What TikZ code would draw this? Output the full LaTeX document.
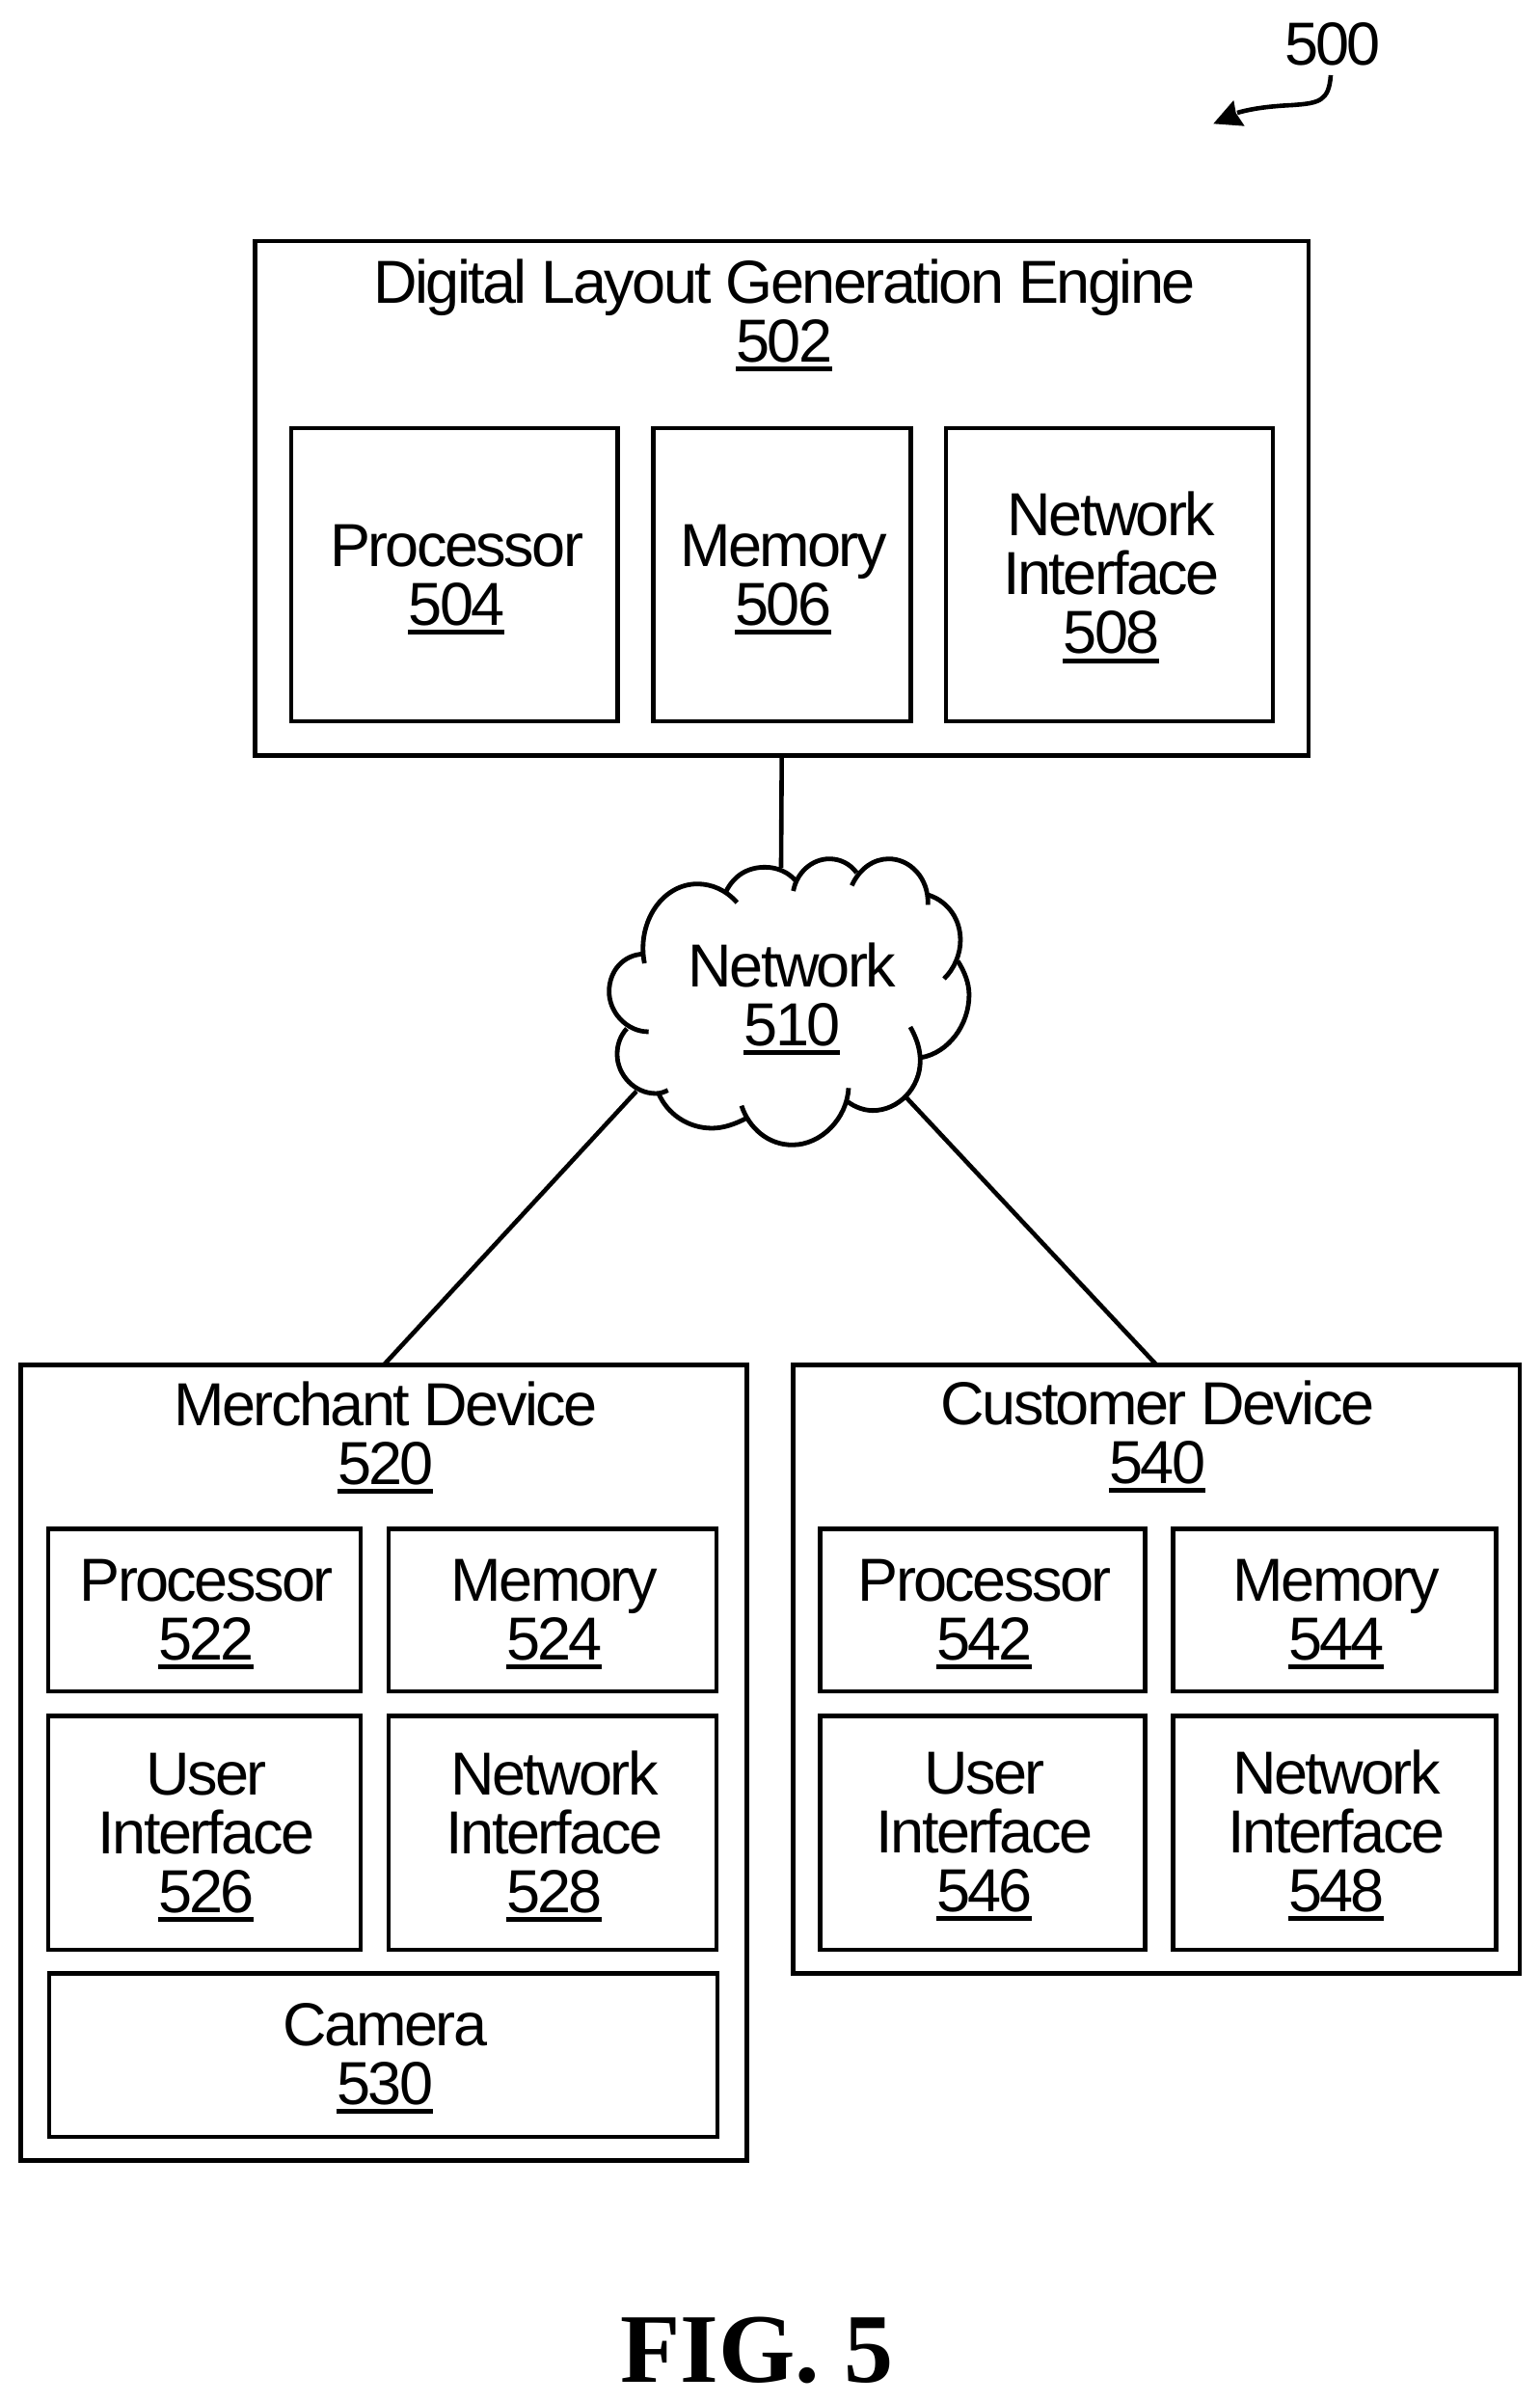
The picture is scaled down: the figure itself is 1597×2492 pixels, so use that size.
\documentclass[tikz,border=0pt]{standalone}
\usepackage{fontspec}
\setmainfont[LetterSpace=-4.1]{Liberation Sans}
\newfontfamily\figfont{Liberation Serif}
\newsavebox\ubox
\newcommand\un[1]{\sbox\ubox{#1}\leavevmode\rlap{\kern-0.5pt\smash{\rule[-10pt]{\dimexpr\wd\ubox\relax}{5pt}}}\usebox\ubox}
\newcommand\bx[5]{%
  \pgfmathsetmacro\bxw{#4-#2}\pgfmathsetmacro\bxh{#5-#3}%
  \pgfmathsetmacro\bxx{(#4+#2)/2}\pgfmathsetmacro\bxy{(#5+#3)/2}%
  \node[boxn,minimum width=\bxw pt,minimum height=\bxh pt] (#1) at (\bxx,\bxy) {};}
\tikzset{
  boxn/.style={draw=black,line width=4.8pt,inner sep=0pt,outer sep=0pt,fill=none},
  lbl/.style={anchor=base,align=center,inner sep=0pt,xshift=1.5pt,font=\fontsize{63}{61}\selectfont},
  conn/.style={draw=black,line width=4.6pt},
  cloudarc/.style={draw=black,line width=4.8pt,line cap=butt},
}
\begin{document}
\begin{tikzpicture}[x=1pt,y=-1pt]
\useasboundingbox (0,0) rectangle (1597,2492);
\fill[white] (0,0) rectangle (1597,2492);
% reference arrow
\node[lbl] (n500) at (1380.5,67) {500};
\coordinate (aS) at (1380,78);
\coordinate (aE) at (1283,117);
\draw[line width=4.6pt] (aS) .. controls (1378,105) and (1368,107) .. (1340,109) .. controls (1320,110) and (1300,112) .. (aE);
\fill (1258.3,128.3) -- (1279.3,104) -- (1281.7,117.3) -- (1290.7,130.7) -- cycle;
% engine
\bx{top}{264.4}{250}{1357}{783.6}
\bx{b504}{302}{444}{640.8}{748}
\bx{b506}{677.5}{444}{944.3}{748}
\bx{b508}{981}{444}{1320}{748}
\node[lbl] (t502) at (812,375) {Digital Layout Generation Engine\\\un{502}};
\node[lbl] (t504) at (472,648) {Processor\\\un{504}};
\node[lbl] (t506) at (811,648) {Memory\\\un{506}};
\node[lbl] (t508) at (1151,677.5) {Network\\Interface\\\un{508}};
% merchant
\bx{merchant}{21.4}{1415.5}{774.5}{2240.5}
\bx{b522}{50}{1585.5}{374}{1754}
\bx{b524}{403}{1585.5}{743}{1754}
\bx{b526}{50}{1779.5}{374}{2022}
\bx{b528}{403}{1779.5}{743}{2022}
\bx{b530}{51}{2046.7}{744}{2216}
\node[lbl] (t520) at (398.5,1539) {Merchant Device\\\un{520}};
\node[lbl] (t522) at (212.5,1721) {Processor\\\un{522}};
\node[lbl] (t524) at (573.5,1721) {Memory\\\un{524}};
\node[lbl] (t526) at (212.5,1983) {User\\Interface\\\un{526}};
\node[lbl] (t528) at (573.5,1983) {Network\\Interface\\\un{528}};
\node[lbl] (t530) at (398,2182) {Camera\\\un{530}};
% customer
\bx{customer}{822.7}{1415.5}{1576}{2046.4}
\bx{b542}{850.8}{1585.5}{1187.5}{1754}
\bx{b544}{1216.5}{1585.5}{1551.5}{1754}
\bx{b546}{850.8}{1779.5}{1187.5}{2022}
\bx{b548}{1216.5}{1779.5}{1551.5}{2022}
\node[lbl] (t540) at (1199,1538) {Customer Device\\\un{540}};
\node[lbl] (t542) at (1019.5,1721) {Processor\\\un{542}};
\node[lbl] (t544) at (1384.5,1721) {Memory\\\un{544}};
\node[lbl] (t546) at (1019.5,1982) {User\\Interface\\\un{546}};
\node[lbl] (t548) at (1384.5,1982) {Network\\Interface\\\un{548}};
% cloud, drawn in the crop's coordinates
\begin{scope}[shift={(580,850)},x=0.3333pt,y=-0.3333pt]
\coordinate (cT) at (690,150);
\coordinate (cL) at (240,845);
\coordinate (cR) at (1080,865);
\draw[cloudarc] (265,447) .. controls (240,320) and (320,200) .. (430,200) .. controls (475,200) and (520,220) .. (553,258);
\draw[cloudarc] (518,225) .. controls (545,170) and (590,148) .. (640,148) .. controls (680,148) and (715,165) .. (737,192);
\draw[cloudarc] (728,222) .. controls (740,160) and (790,122) .. (840,122) .. controls (875,122) and (905,138) .. (925,165);
\draw[cloudarc] (910,205) .. controls (935,150) and (980,122) .. (1025,122) .. controls (1090,122) and (1150,180) .. (1147,265);
\draw[cloudarc] (1150,235) .. controls (1210,255) and (1248,310) .. (1248,375) .. controls (1248,420) and (1228,465) .. (1197,495);
\draw[cloudarc] (1240,440) .. controls (1262,475) and (1275,510) .. (1275,545) .. controls (1275,640) and (1210,725) .. (1127,740);
\draw[cloudarc] (1092,645) .. controls (1112,680) and (1123,715) .. (1123,750) .. controls (1123,835) and (1055,905) .. (975,905) .. controls (950,905) and (920,895) .. (898,878);
\draw[cloudarc] (900,835) .. controls (895,930) and (815,1012) .. (725,1012) .. controls (650,1012) and (590,960) .. (567,890);
\draw[cloudarc] (580,930) .. controls (545,948) and (510,960) .. (475,960) .. controls (400,960) and (335,915) .. (308,850);
\draw[cloudarc] (338,842) .. controls (325,848) and (315,852) .. (300,852) .. controls (235,852) and (180,795) .. (180,730) .. controls (180,700) and (190,672) .. (210,650);
\draw[cloudarc] (278,660) .. controls (210,660) and (155,600) .. (155,535) .. controls (155,470) and (200,420) .. (262,418);
\end{scope}
\node[lbl] (t510) at (820,1084) {Network\\\un{510}};
% connectors
\draw[conn] (top.south) -- (cT);
\draw[conn] (cL) -- (merchant.north);
\draw[conn] (cR) -- (customer.north);
% caption
\node[anchor=base,inner sep=0pt,font=\figfont\bfseries\fontsize{102}{102}\selectfont] (fig) at (785,2470) {FIG. 5};
\end{tikzpicture}
\end{document}
